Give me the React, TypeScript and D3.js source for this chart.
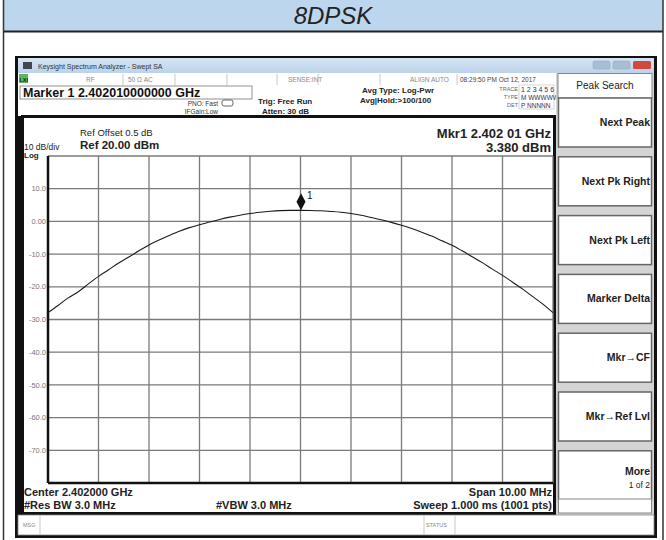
import * as React from 'react'
import * as d3 from 'd3'

const W = 666
const H = 540
const GRID_LEFT = 48
const GRID_RIGHT = 553
const GRID_TOP = 156
const GRID_BOTTOM = 483
const FONT = "'Liberation Sans', Arial, sans-serif"

// frequency offset from center (MHz) and trace level (dBm)
const offsets = [
  -5.0, -4.8, -4.6, -4.4, -4.2, -4.0, -3.8, -3.6, -3.4, -3.2, -3.0, -2.8, -2.6,
  -2.4, -2.2, -2.0, -1.8, -1.6, -1.4, -1.2, -1.0, -0.8, -0.6, -0.4, -0.2, 0.0,
  0.2, 0.4, 0.6, 0.8, 1.0, 1.2, 1.4, 1.6, 1.8, 2.0, 2.2, 2.4, 2.6, 2.8, 3.0,
  3.2, 3.4, 3.6, 3.8, 4.0, 4.2, 4.4, 4.6, 4.8, 5.0
]
const levels = [
  -27.9, -25.7, -23.4, -21.5, -19.1, -16.8, -14.8, -12.7, -10.9, -9.0, -7.2,
  -5.7, -4.3, -3.0, -1.9, -1.0, -0.2, 0.6, 1.3, 1.9, 2.4, 2.8, 3.1, 3.3, 3.38,
  3.38, 3.35, 3.25, 3.05, 2.8, 2.4, 1.9, 1.2, 0.5, -0.3, -1.2, -2.2, -3.3,
  -4.5, -5.9, -7.3, -9.0, -10.8, -12.6, -14.6, -16.5, -18.6, -20.7, -23.0,
  -25.3, -27.9
]
const yTickValues = [10, 0, -10, -20, -30, -40, -50, -60, -70]
const yTickLabels = ['10.0', '0.00', '-10.0', '-20.0', '-30.0', '-40.0', '-50.0', '-60.0', '-70.0']
const softkeys = ['Next Peak', 'Next Pk Right', 'Next Pk Left', 'Marker Delta', 'Mkr\u2192CF', 'Mkr\u2192Ref Lvl', 'More']
const markerOffset = 0.01
const markerLevel = 3.38

export default function App() {
  const x = d3.scaleLinear().domain([-5, 5]).range([GRID_LEFT, GRID_RIGHT])
  const y = d3.scaleLinear().domain([-80, 20]).range([GRID_BOTTOM, GRID_TOP])
  const pts = offsets.map((o, i) => [o, levels[i]] as [number, number])
  const line = d3
    .line<[number, number]>()
    .x(d => x(d[0]))
    .y(d => y(d[1]))
    .curve(d3.curveMonotoneX)
  const mx = x(markerOffset)
  const my = y(markerLevel)

  return (
    <svg
      width={W}
      height={H}
      style={{ position: 'absolute', left: 0, top: 0, fontFamily: FONT }}
    >
      <defs>
        <linearGradient id="tb" x1="0" x2="0" y1="0" y2="1">
          <stop offset="0" stopColor="#d6e5f5" />
          <stop offset="1" stopColor="#bcd2ea" />
        </linearGradient>
      </defs>
      {/* outer table cell */}
      <rect x={0} y={0} width={W} height={H} fill="#fff" />
      <rect x={3} y={0} width={660} height={31} fill="#bcd6ee" />
      <line x1={3} x2={663} y1={31.5} y2={31.5} stroke="#222" strokeWidth={2} />
      <line x1={3.5} x2={3.5} y1={0} y2={H} stroke="#333" strokeWidth={1.5} />
      <line x1={663} x2={663} y1={0} y2={H} stroke="#333" strokeWidth={1.5} />
      <text x={333} y={24} textAnchor="middle" fontSize={24} fontStyle="italic" fill="#222">
        8DPSK
      </text>

      {/* analyzer screenshot frame */}
      <rect x={15} y={56} width={642} height={482} fill="#111" />
      <rect x={18} y={58} width={636} height={15} fill="url(#tb)" />
      <rect x={23} y={62} width={9} height={7} fill="#445" />
      <text x={38} y={68.5} fontSize={7} fill="#333">
        Keysight Spectrum Analyzer - Swept SA
      </text>
      <rect x={593} y={61} width={17} height={8} rx={1.5} fill="#a9bdd6" stroke="#8aa" strokeWidth={0.5} />
      <rect x={613} y={61} width={17} height={8} rx={1.5} fill="#a9bdd6" stroke="#8aa" strokeWidth={0.5} />
      <rect x={633} y={61} width={18} height={8} rx={1.5} fill="#d0493e" />

      {/* status row */}
      <rect x={18} y={73} width={538} height={12} fill="#fff" />
      <rect x={19} y={74} width={9} height={9} fill="#5cb85c" />
      <text x={19.5} y={81.5} fontSize={5.5} fontWeight="bold" fill="#123">
        LXI
      </text>
      {[123, 175, 227, 277, 318, 380, 457].map(sx => (
        <line key={sx} x1={sx} x2={sx} y1={74} y2={85} stroke="#bbb" strokeWidth={0.8} />
      ))}
      <text x={86} y={81.5} fontSize={6.5} fill="#888">RF</text>
      <text x={128} y={81.5} fontSize={6.5} fill="#888">50 Ω   AC</text>
      <text x={288} y={81.5} fontSize={6.5} fill="#888">SENSE:INT</text>
      <text x={410} y={81.5} fontSize={6.5} fill="#888">ALIGN AUTO</text>
      <text x={460} y={81.5} fontSize={6.5} fill="#444">08:29:50 PM Oct 12, 2017</text>

      {/* info area */}
      <rect x={18} y={85} width={538} height={31} fill="#fff" />
      <rect x={20} y={86} width={232} height={13} fill="#fff" stroke="#777" strokeWidth={0.8} />
      <text x={23} y={96.5} fontSize={12.5} fontWeight="bold" fill="#111">
        Marker 1 2.402010000000 GHz
      </text>
      <text x={218} y={105.5} fontSize={6.5} textAnchor="end" fill="#333">PNO: Fast</text>
      <text x={218} y={113.5} fontSize={6.5} textAnchor="end" fill="#333">IFGain:Low</text>
      <rect x={222} y={100} width={11} height={6} rx={2} fill="none" stroke="#444" strokeWidth={0.8} />
      <text x={258} y={104} fontSize={8} fontWeight="bold" fill="#222">Trig: Free Run</text>
      <text x={262} y={114} fontSize={8} fontWeight="bold" fill="#222">Atten: 30 dB</text>
      <text x={362} y={93} fontSize={8} fontWeight="bold" fill="#222">Avg Type: Log-Pwr</text>
      <text x={360} y={103} fontSize={8} fontWeight="bold" fill="#222">Avg|Hold:&gt;100/100</text>
      <text x={518} y={91} fontSize={5.5} textAnchor="end" fill="#666">TRACE</text>
      <text x={518} y={99} fontSize={5.5} textAnchor="end" fill="#666">TYPE</text>
      <text x={518} y={107} fontSize={5.5} textAnchor="end" fill="#666">DET</text>
      <rect x={519} y={85} width={35} height={24} fill="none" stroke="#bbb" strokeWidth={0.6} />
      <text x={521} y={91.5} fontSize={7} fill="#335">1 2 3 4 5 6</text>
      <text x={521} y={99.5} fontSize={6.5} fill="#335">M WWWWW</text>
      <text x={521} y={107.5} fontSize={6.5} fill="#335">P NNNNN</text>

      {/* plot panel */}
      <rect x={22.5} y={116.5} width={532} height={397} fill="#fff" stroke="#111" strokeWidth={3} />
      <text x={80} y={136} fontSize={9.5} fill="#222">Ref Offset 0.5 dB</text>
      <text x={80} y={149} fontSize={11.5} fontWeight="bold" fill="#222">Ref 20.00 dBm</text>
      <text x={24} y={149.5} fontSize={8.5} fill="#222">10 dB/div</text>
      <text x={24} y={158} fontSize={8} fontWeight="bold" fill="#222">Log</text>
      <text x={551} y={138} fontSize={13} fontWeight="bold" textAnchor="end" fill="#222">
        Mkr1 2.402 01 GHz
      </text>
      <text x={551} y={152} fontSize={13} fontWeight="bold" textAnchor="end" fill="#222">
        3.380 dBm
      </text>

      {/* graticule */}
      {x.ticks(10).map(t => (
        <line key={'x' + t} x1={x(t)} x2={x(t)} y1={GRID_TOP} y2={GRID_BOTTOM} stroke="#7a7a7a" strokeWidth={1.3} />
      ))}
      {y.ticks(10).map(t => (
        <line key={'y' + t} x1={GRID_LEFT} x2={GRID_RIGHT} y1={y(t)} y2={y(t)} stroke="#7a7a7a" strokeWidth={1.3} />
      ))}
      <line x1={GRID_LEFT} x2={GRID_LEFT} y1={GRID_TOP} y2={GRID_BOTTOM} stroke="#111" strokeWidth={2.5} />
      <line x1={GRID_LEFT} x2={GRID_RIGHT} y1={GRID_BOTTOM} y2={GRID_BOTTOM} stroke="#111" strokeWidth={2.5} />
      {yTickValues.map((v, i) => (
        <text key={v} x={46} y={y(v)} dy="0.35em" fontSize={7.5} textAnchor="end" fill="#777">
          {yTickLabels[i]}
        </text>
      ))}

      {/* trace */}
      <path d={line(pts) ?? ''} fill="none" stroke="#1a1a1a" strokeWidth={1.1} />
      <path
        d={`M${mx},${my - 17} L${mx + 4.5},${my - 8.5} L${mx},${my} L${mx - 4.5},${my - 8.5}Z`}
        fill="#111"
      />
      <text x={mx + 6} y={my - 11} fontSize={10} fill="#111">1</text>

      {/* bottom annotation */}
      <text x={24} y={496} fontSize={11} fontWeight="bold" fill="#222">Center 2.402000 GHz</text>
      <text x={24} y={509} fontSize={11} fontWeight="bold" fill="#222">#Res BW 3.0 MHz</text>
      <text x={216} y={509} fontSize={11} fontWeight="bold" fill="#222">#VBW 3.0 MHz</text>
      <text x={552} y={496} fontSize={11} fontWeight="bold" textAnchor="end" fill="#222">Span 10.00 MHz</text>
      <text x={552} y={509} fontSize={11} fontWeight="bold" textAnchor="end" fill="#222">
        Sweep  1.000 ms (1001 pts)
      </text>

      {/* softkey panel */}
      <rect x={556} y={73} width={98} height={442} fill="#d4d4d4" />
      <rect x={558} y={73.5} width={94} height={24.5} fill="#fff" stroke="#888" strokeWidth={1} />
      <text x={605} y={89} fontSize={10} textAnchor="middle" fill="#222">Peak Search</text>
      {softkeys.map((k, i) => {
        const top = 98 + i * 58.8
        return (
          <g key={k}>
            <rect x={558.5} y={top} width={93} height={49} fill="#fff" stroke="#666" strokeWidth={1.5} />
            <text x={650} y={top + (k === 'More' ? 24 : 28)} fontSize={10.5} fontWeight="bold" textAnchor="end" fill="#222">
              {k}
            </text>
            {k === 'More' && (
              <text x={650} y={top + 37} fontSize={8.5} textAnchor="end" fill="#222">1 of 2</text>
            )}
          </g>
        )
      })}
      <rect x={558.5} y={499} width={93} height={14} fill="#fff" stroke="#888" strokeWidth={1} />

      {/* message bar */}
      <rect x={18} y={515} width={636} height={20} fill="#fff" stroke="#888" strokeWidth={0.8} />
      <line x1={40} x2={40} y1={515} y2={535} stroke="#bbb" strokeWidth={0.8} />
      <text x={23} y={527} fontSize={5.5} fill="#888">MSG</text>
      <line x1={424} x2={424} y1={515} y2={535} stroke="#bbb" strokeWidth={0.8} />
      <line x1={455} x2={455} y1={515} y2={535} stroke="#bbb" strokeWidth={0.8} />
      <text x={426} y={527} fontSize={5.5} fill="#888">STATUS</text>
    </svg>
  )
}
